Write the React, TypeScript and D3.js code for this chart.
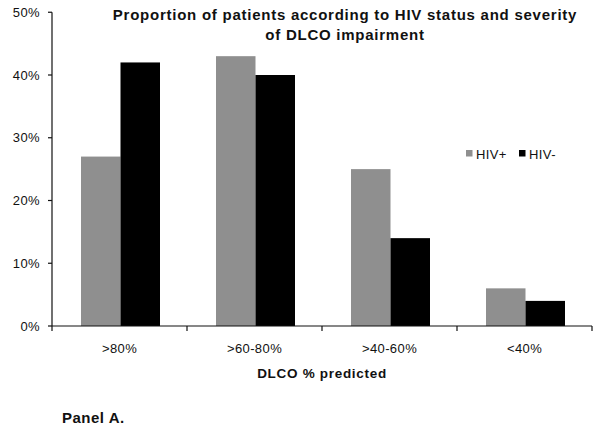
import React from "react";
import * as d3 from "d3";

const categories = [">80%", ">60-80%", ">40-60%", "<40%"];
const seriesNames = ["HIV+", "HIV-"];
const hivPos = [27, 43, 25, 6];
const hivNeg = [42, 40, 14, 4];
const yTicks = [0, 10, 20, 30, 40, 50];
const colors = ["#8f8f8f", "#000000"];

export default function App() {
  const W = 602, H = 432;
  const left = 52, right = 592, top = 12.25, bottom = 326;
  const x0 = d3.scaleBand<string>().domain(categories).range([left, right]).padding(0);
  const x1 = d3.scaleBand<string>().domain(seriesNames).range([29, 108]).padding(0);
  const y = d3.scaleLinear().domain([0, 50]).range([bottom, top]);
  const values = [hivPos, hivNeg];
  const font = "'Liberation Sans', Arial, sans-serif";

  return (
    <svg width={W} height={H} style={{ position: "absolute", left: 0, top: 0, background: "#fff" }} fontFamily={font}>
      <rect x={0} y={0} width={W} height={H} fill="#fff" />
      {/* bars */}
      {categories.map((c, i) =>
        seriesNames.map((s, k) => (
          <rect
            key={c + s}
            x={(x0(c) as number) + (x1(s) as number)}
            y={y(values[k][i])}
            width={x1.bandwidth()}
            height={bottom - y(values[k][i])}
            fill={colors[k]}
          />
        ))
      )}
      {/* y axis */}
      <line x1={left} x2={left} y1={top} y2={bottom} stroke="#111" strokeWidth={1.2} />
      {yTicks.map((t) => (
        <g key={t}>
          <line x1={left - 4} x2={left} y1={y(t)} y2={y(t)} stroke="#111" strokeWidth={1.2} />
          <text x={40} y={y(t)} dy="0.35em" textAnchor="end" fontSize={13} letterSpacing={0.4} fill="#111">
            {t + "%"}
          </text>
        </g>
      ))}
      {/* x axis */}
      <line x1={left} x2={right} y1={bottom} y2={bottom} stroke="#111" strokeWidth={1.2} />
      {categories.map((c) => (
        <line key={"t" + c} x1={x0(c) as number} x2={x0(c) as number} y1={bottom} y2={bottom + 5} stroke="#111" strokeWidth={1.2} />
      ))}
      <line x1={right} x2={right} y1={bottom} y2={bottom + 5} stroke="#111" strokeWidth={1.2} />
      {categories.map((c) => (
        <text key={"l" + c} x={(x0(c) as number) + x0.bandwidth() / 2} y={352.5} textAnchor="middle" fontSize={13} letterSpacing={0.4} fill="#111">
          {c}
        </text>
      ))}
      <text x={(left + right) / 2} y={378} textAnchor="middle" fontSize={13.5} letterSpacing={0.7} fontWeight="bold" fill="#111">
        DLCO % predicted
      </text>
      {/* title */}
      <text x={345} y={20} textAnchor="middle" fontSize={15} letterSpacing={0.75} fontWeight="bold" fill="#111">
        Proportion of patients according to HIV status and severity
      </text>
      <text x={345} y={39.5} textAnchor="middle" fontSize={15} letterSpacing={0.75} fontWeight="bold" fill="#111">
        of DLCO impairment
      </text>
      {/* legend */}
      {seriesNames.map((s, k) => (
        <g key={"lg" + s} transform={`translate(${466 + k * 53},150)`}>
          <rect x={0} y={0} width={6.5} height={6.5} fill={colors[k]} />
          <text x={10} y={4} dy="0.35em" fontSize={13} letterSpacing={0.4} fill="#111">
            {s}
          </text>
        </g>
      ))}
      <text x={62} y={423} fontSize={15} letterSpacing={0.5} fontWeight="bold" fill="#111">
        Panel A.
      </text>
    </svg>
  );
}
